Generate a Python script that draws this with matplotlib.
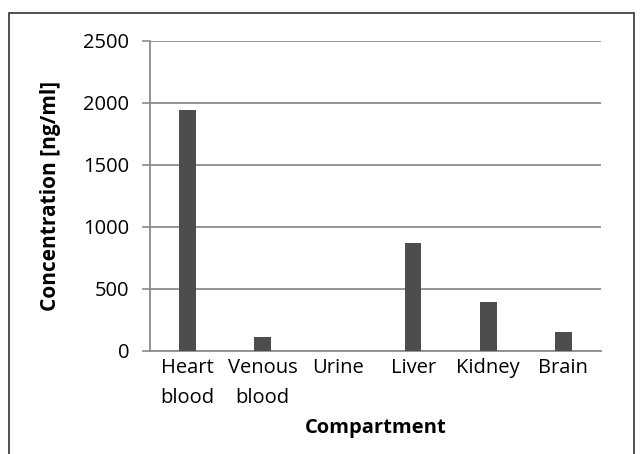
import numpy as np
import matplotlib.pyplot as plt
from matplotlib.patches import Rectangle

compartments = ['Heart\nblood', 'Venous\nblood', 'Urine', 'Liver', 'Kidney', 'Brain']
concentration = [1940, 110, 0, 868, 395, 150]
y_ticks = [0, 500, 1000, 1500, 2000, 2500]

plt.rcParams['font.family'] = ['Open Sans', 'DejaVu Sans']

GRID_COLOR = '#8c8c8c'
BAR_COLOR = '#4d4d4d'

fig = plt.figure(figsize=(6.43, 4.54), dpi=100)
ax = fig.add_axes([150 / 643, 1 - 351 / 454, 451 / 643, 310 / 454])

x = np.arange(len(compartments))
ax.bar(x, concentration, width=0.22, color=BAR_COLOR, zorder=3)

ax.set_xlim(-0.5, len(compartments) - 0.5)
ax.set_ylim(0, 2500)
ax.set_yticks(y_ticks)
ax.set_xticks(x)
ax.set_xticklabels(compartments, fontsize=14.5, linespacing=1.7)
ax.tick_params(axis='y', labelsize=14.5, length=6, width=1.2, color=GRID_COLOR, pad=9)
ax.tick_params(axis='x', length=0, pad=5)

ax.grid(axis='y', color=GRID_COLOR, linewidth=1.3, zorder=0)
for side in ['top', 'right']:
    ax.spines[side].set_visible(False)
ax.spines['left'].set_color(GRID_COLOR)
ax.spines['left'].set_linewidth(1.3)
ax.spines['bottom'].set_color(GRID_COLOR)
ax.spines['bottom'].set_linewidth(1.3)

ax.set_ylabel('Concentration [ng/ml]', fontsize=15, fontweight='bold', labelpad=16)
ax.set_xlabel('Compartment', fontsize=14.5, fontweight='bold', labelpad=7)

# outer frame of the original figure
fig.patches.append(Rectangle((9 / 643, -0.1), 625 / 643, 1.1 - 13 / 454,
                             transform=fig.transFigure, fill=False,
                             edgecolor='#333333', linewidth=1.2))

fig.savefig('out.png', dpi=100)
